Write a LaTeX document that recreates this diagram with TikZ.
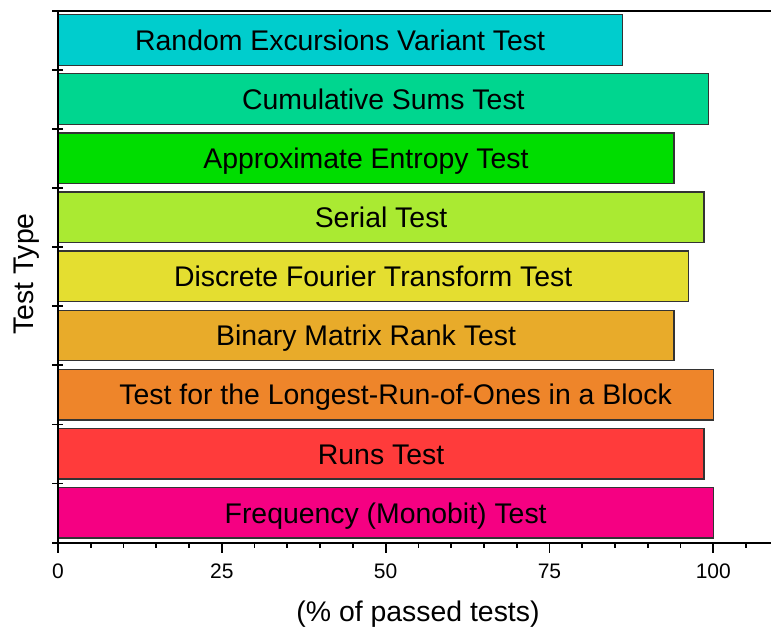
\documentclass[tikz,border=0pt]{standalone}
\usepackage{fontspec}
\setmainfont{Liberation Sans}
\usetikzlibrary{calc}
\begin{document}
\begin{tikzpicture}[x=1pt,y=-1pt,
  axis/.style={line width=2pt,black},
  tickmark/.style={line width=1.8pt,black},
  bar/.style={draw=black!80,line width=1.3pt},
  barlabel/.style={font=\fontsize{28.4}{34}\selectfont,inner sep=0pt,anchor=base},
  ticklabel/.style={font=\fontsize{21}{25}\selectfont,inner sep=0pt,anchor=base},
  title/.style={font=\fontsize{28.4}{34}\selectfont,inner sep=0pt}]
\useasboundingbox (0,0) rectangle (771,628);
\definecolor{cA}{RGB}{0,205,205}
\definecolor{cB}{RGB}{0,214,143}
\definecolor{cC}{RGB}{0,221,0}
\definecolor{cD}{RGB}{170,234,50}
\definecolor{cE}{RGB}{228,222,48}
\definecolor{cF}{RGB}{232,171,42}
\definecolor{cG}{RGB}{238,133,42}
\definecolor{cH}{RGB}{255,59,59}
\definecolor{cI}{RGB}{245,0,130}
% bars: index, value (%), colour, label shift, label
\foreach \i/\v/\c/\s/\t in {
  0/86.1/cA/0/Random Excursions Variant Test,
  1/99.3/cB/0/Cumulative Sums Test,
  2/94.0/cC/0/Approximate Entropy Test,
  3/98.6/cD/0/Serial Test,
  4/96.2/cE/0/Discrete Fourier Transform Test,
  5/94.0/cF/0/Binary Matrix Rank Test,
  6/100/cG/10/Test for the Longest-Run-of-Ones in a Block,
  7/98.6/cH/0/Runs Test,
  8/100/cI/0/Frequency (Monobit) Test} {
  \pgfmathsetmacro{\yc}{40+59.1*\i}
  \pgfmathsetmacro{\xr}{58+6.553*\v}
  \coordinate (b\i-sw) at (58,\yc+25.25);
  \coordinate (b\i-ne) at (\xr,\yc-25.25);
  \path[bar,fill=\c] (b\i-sw) rectangle (b\i-ne);
  \node[barlabel] (lab\i) at ({(58+\xr)/2+\s},\yc+10.3) {\t};
}
% axes
\coordinate (origin) at (58,542.7);
\coordinate (xend) at (771,542.7);
\coordinate (ytop) at (58,10.7);
\coordinate (topend) at (771,10.7);
\draw[axis] (52,542.7) -- (xend);
\draw[axis] (52,10.7) -- (topend);
\draw[axis] (origin) -- (ytop);
% category ticks on the left axis
\foreach \k in {1,...,8}
  \draw[tickmark] (52,{10.7+59.1*\k}) -- (63,{10.7+59.1*\k});
% x ticks
\foreach \v in {5,10,15,20,30,35,40,45,55,60,65,70,80,85,90,95,105}
  \draw[tickmark] ({58+6.553*\v},542.7) -- ({58+6.553*\v},547.5);
\foreach \v in {0,25,50,75,100} {
  \draw[tickmark] ({58+6.553*\v},542.7) -- ({58+6.553*\v},552.5);
  \node[ticklabel] (xt\v) at ({58+6.553*\v},578.3) {\v};
}
% axis titles
\node[title,anchor=base] (xtitle) at (418,621.5) {(\% of passed tests)};
\node[title,rotate=90,anchor=base] (ytitle) at (33.5,274) {Test Type};
\end{tikzpicture}
\end{document}
